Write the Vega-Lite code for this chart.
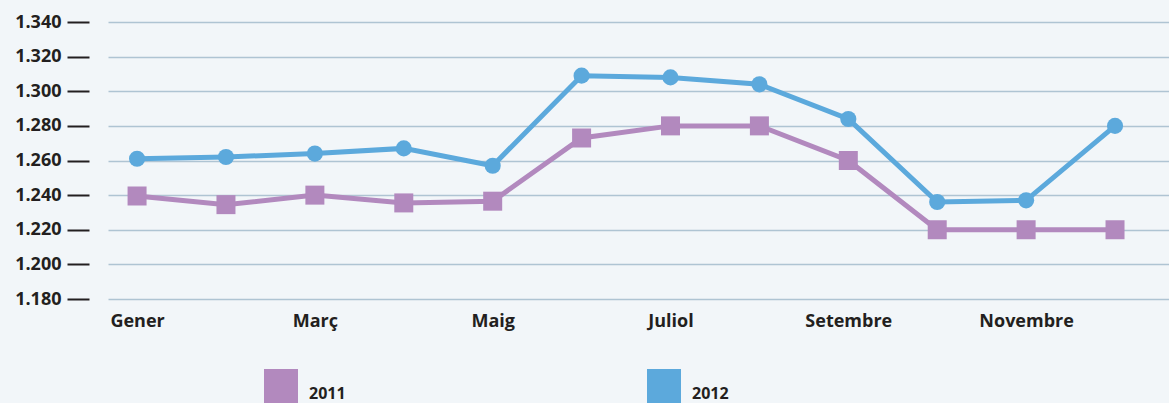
{
  "$schema": "https://vega.github.io/schema/vega-lite/v6.json",
  "width": 1061,
  "height": 277,
  "autosize": {"type": "none"},
  "padding": {"left": 108, "top": 22, "right": 0, "bottom": 104},
  "background": "#F2F6F9",
  "config": {
    "view": {"stroke": null},
    "font": "Open Sans",
    "legend": {
      "title": null,
      "orient": "none",
      "legendX": 156,
      "legendY": 347,
      "direction": "horizontal",
      "padding": 0,
      "symbolType": "square",
      "symbolSize": 1156,
      "symbolStrokeWidth": 0,
      "symbolOpacity": 1,
      "labelOffset": 11,
      "columnPadding": 301,
      "labelFont": "Open Sans",
      "labelFontSize": 16,
      "labelFontWeight": "bold",
      "labelColor": "#231F20",
      "labelBaseline": "top"
    }
  },
  "data": {
    "values": [
      {"mes": "Gener", "any": "2011", "valor": 1239.5},
      {"mes": "Febrer", "any": "2011", "valor": 1234.5},
      {"mes": "Març", "any": "2011", "valor": 1240},
      {"mes": "Abril", "any": "2011", "valor": 1235.5},
      {"mes": "Maig", "any": "2011", "valor": 1236.5},
      {"mes": "Juny", "any": "2011", "valor": 1273},
      {"mes": "Juliol", "any": "2011", "valor": 1280},
      {"mes": "Agost", "any": "2011", "valor": 1280},
      {"mes": "Setembre", "any": "2011", "valor": 1260},
      {"mes": "Octubre", "any": "2011", "valor": 1220},
      {"mes": "Novembre", "any": "2011", "valor": 1220},
      {"mes": "Desembre", "any": "2011", "valor": 1220},
      {"mes": "Gener", "any": "2012", "valor": 1261},
      {"mes": "Febrer", "any": "2012", "valor": 1262},
      {"mes": "Març", "any": "2012", "valor": 1264},
      {"mes": "Abril", "any": "2012", "valor": 1267},
      {"mes": "Maig", "any": "2012", "valor": 1257},
      {"mes": "Juny", "any": "2012", "valor": 1309},
      {"mes": "Juliol", "any": "2012", "valor": 1308},
      {"mes": "Agost", "any": "2012", "valor": 1304},
      {"mes": "Setembre", "any": "2012", "valor": 1284},
      {"mes": "Octubre", "any": "2012", "valor": 1236},
      {"mes": "Novembre", "any": "2012", "valor": 1237},
      {"mes": "Desembre", "any": "2012", "valor": 1280}
    ]
  },
  "encoding": {
    "x": {
      "field": "mes",
      "type": "ordinal",
      "sort": ["Gener","Febrer","Març","Abril","Maig","Juny","Juliol","Agost","Setembre","Octubre","Novembre","Desembre"],
      "scale": {"type": "point", "padding": 0.467, "align": 0.35},
      "axis": {
        "title": null,
        "domain": false,
        "ticks": false,
        "grid": false,
        "labelAngle": 0,
        "values": ["Gener","Març","Maig","Juliol","Setembre","Novembre"],
        "labelFont": "Open Sans",
        "labelFontSize": 18,
        "labelFontWeight": "bold",
        "labelColor": "#231F20",
        "labelPadding": 13
      }
    },
    "y": {
      "field": "valor",
      "type": "quantitative",
      "scale": {"domain": [1180, 1340], "nice": false, "zero": false},
      "axis": {
        "title": null,
        "domain": false,
        "values": [1180,1200,1220,1240,1260,1280,1300,1320,1340],
        "labelExpr": "replace(format(datum.value, ','), ',', '.')",
        "offset": 19,
        "tickSize": 22,
        "tickWidth": 2,
        "tickColor": "#231F20",
        "labelPadding": 6,
        "labelFont": "Open Sans",
        "labelFontSize": 18,
        "labelFontWeight": "bold",
        "labelColor": "#231F20",
        "grid": true,
        "gridColor": "#AFC4D3",
        "gridWidth": 1.5
      }
    },
    "color": {
      "field": "any",
      "type": "nominal",
      "scale": {"domain": ["2011", "2012"], "range": ["#B289BE", "#5CA9DC"]}
    }
  },
  "layer": [
    {
      "mark": {"type": "line", "strokeWidth": 5}
    },
    {
      "transform": [{"filter": "datum.any === '2011'"}],
      "mark": {"type": "point", "filled": true, "opacity": 1, "shape": "square", "size": 361}
    },
    {
      "transform": [{"filter": "datum.any === '2012'"}],
      "mark": {"type": "point", "filled": true, "opacity": 1, "shape": "circle", "size": 260}
    }
  ]
}
